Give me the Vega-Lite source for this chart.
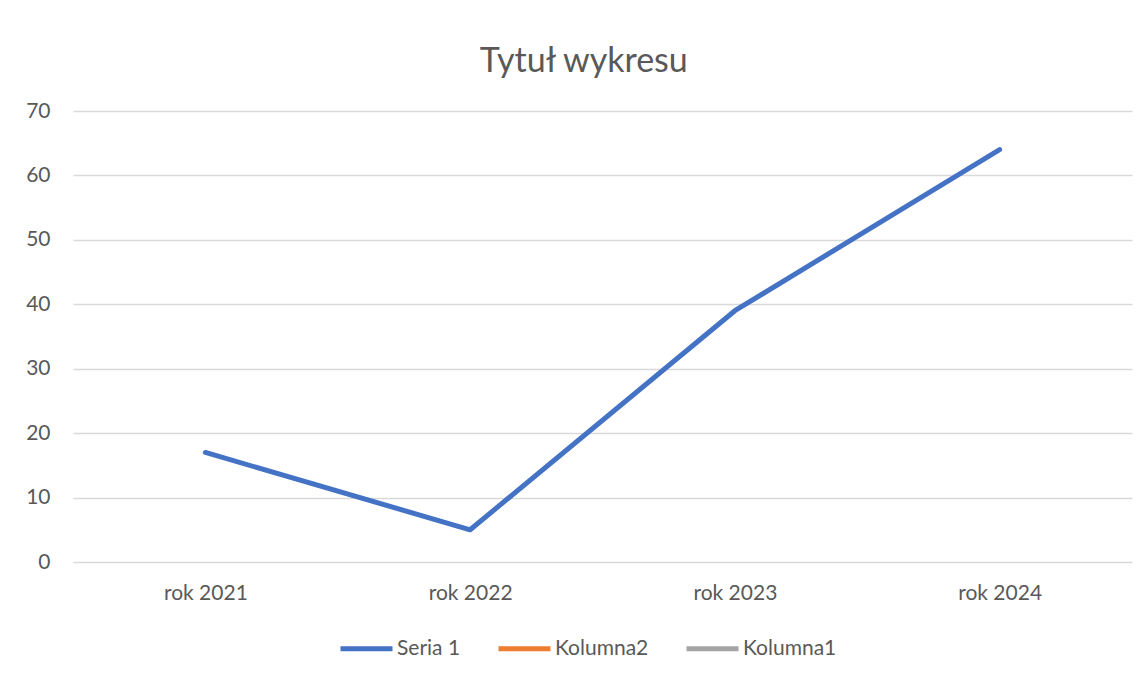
{
  "$schema": "https://vega.github.io/schema/vega-lite/v6.json",
  "width": 1059,
  "height": 451,
  "autosize": {"type": "none"},
  "padding": {"left": 73, "top": 111, "right": 16, "bottom": 116},
  "background": "white",
  "config": {
    "font": "Lato",
    "view": {"stroke": null},
    "axis": {"labelColor": "#595959", "labelFont": "Lato", "labelFontSize": 21, "domain": false, "ticks": false, "tickSize": 0},
    "legend": {"labelColor": "#595959", "labelFont": "Lato", "labelFontSize": 21}
  },
  "title": {
    "text": "Tytuł wykresu",
    "font": "Lato",
    "fontSize": 34,
    "fontWeight": "normal",
    "color": "#595959",
    "anchor": "middle",
    "frame": "bounds",
    "offset": 21,
    "dx": 5
  },
  "data": {
    "values": [
      {"kategoria": "rok 2021", "seria": "Seria 1", "wartosc": 17},
      {"kategoria": "rok 2022", "seria": "Seria 1", "wartosc": 5},
      {"kategoria": "rok 2023", "seria": "Seria 1", "wartosc": 39},
      {"kategoria": "rok 2024", "seria": "Seria 1", "wartosc": 64}
    ]
  },
  "mark": {"type": "line", "strokeWidth": 5, "strokeCap": "round", "strokeJoin": "round"},
  "encoding": {
    "x": {
      "field": "kategoria",
      "type": "nominal",
      "sort": null,
      "title": null,
      "scale": {"type": "point", "padding": 0.5},
      "axis": {"labelAngle": 0, "labelPadding": 20, "grid": false}
    },
    "y": {
      "field": "wartosc",
      "type": "quantitative",
      "title": null,
      "scale": {"domain": [0, 70], "nice": false},
      "axis": {"values": [0, 10, 20, 30, 40, 50, 60, 70], "labelPadding": 23, "grid": true, "gridColor": "#D9D9D9", "gridWidth": 1.3}
    },
    "color": {
      "field": "seria",
      "type": "nominal",
      "scale": {"domain": ["Seria 1", "Kolumna2", "Kolumna1"], "range": ["#4472C4", "#ED7D31", "#A5A5A5"]},
      "legend": {
        "title": null,
        "orient": "none",
        "direction": "horizontal",
        "legendX": 265,
        "legendY": 509,
        "symbolType": "stroke",
        "symbolSize": 2704,
        "symbolStrokeWidth": 5,
        "labelOffset": 2,
        "columnPadding": 27
      }
    }
  }
}
